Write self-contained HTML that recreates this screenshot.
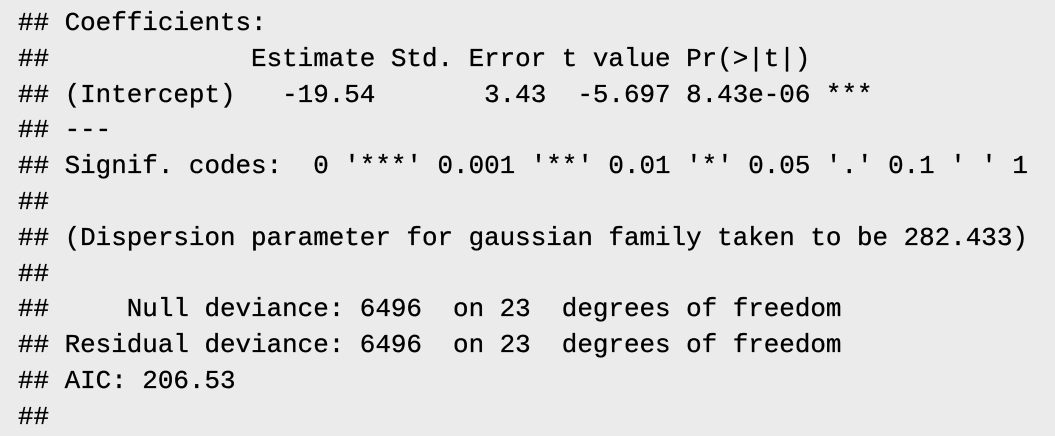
<!DOCTYPE html>
<html><head><meta charset="utf-8"><style>
html,body{margin:0;padding:0;}
body{width:1055px;height:409px;overflow:hidden;background:#ebebeb;position:relative;}
pre{margin:0;position:absolute;left:18px;top:6px;font-family:"Liberation Mono",monospace;font-size:25.9px;line-height:35.8px;color:#000;white-space:pre;-webkit-text-stroke:0.3px #000;}
</style></head><body>
<pre>## Coefficients:
##             Estimate Std. Error t value Pr(&gt;|t|)
## (Intercept)   -19.54       3.43  -5.697 8.43e-06 ***
## ---
## Signif. codes:  0 '***' 0.001 '**' 0.01 '*' 0.05 '.' 0.1 ' ' 1
##
## (Dispersion parameter for gaussian family taken to be 282.433)
##
##     Null deviance: 6496  on 23  degrees of freedom
## Residual deviance: 6496  on 23  degrees of freedom
## AIC: 206.53
##</pre>
</body></html>
